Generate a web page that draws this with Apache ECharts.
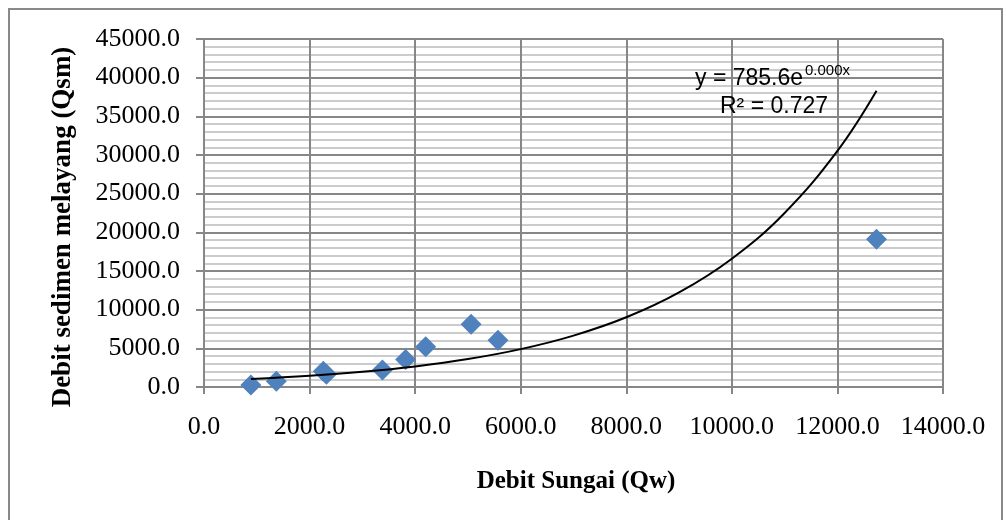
<!DOCTYPE html>
<html>
<head>
<meta charset="utf-8">
<script src="https://cdn.jsdelivr.net/npm/echarts@6/dist/echarts.min.js"></script>
<style>
html,body{margin:0;padding:0;background:#fff;}
#chart{width:1006px;height:520px;}
</style>
</head>
<body>
<div id="chart"></div>
<script>
// Observed data: river discharge (Qw) vs suspended sediment discharge (Qsm)
var qw  = [888, 1370, 2260, 2320, 3380, 3820, 4200, 5060, 5570, 12740];
var qsm = [250, 750, 2030, 1650, 2200, 3550, 5200, 8100, 6050, 19100];

// Trendline values (y = 785.6e^0.000x)
var trendX = [888, 2000, 3000, 4000, 5000, 6000, 7000, 8000, 9000, 10000, 11000, 12000, 12741];
var trendY = [1030, 1446, 1961, 2661, 3610, 4897, 6644, 9013, 12228, 16590, 22508, 30532, 38313];

var xTicks = ['0.0','2000.0','4000.0','6000.0','8000.0','10000.0','12000.0','14000.0'];
var yTicks = ['0.0','5000.0','10000.0','15000.0','20000.0','25000.0','30000.0','35000.0','40000.0','45000.0'];

var xTitle = 'Debit Sungai (Qw)';
var yTitle = 'Debit sedimen melayang (Qsm)';
var eqLine1 = 'y = 785.6e';
var eqSup = '0.000x';
var eqLine2 = 'R² = 0.727';

var pts = qw.map(function (x, i) { return [x, qsm[i]]; });
var trend = trendX.map(function (x, i) { return [x, trendY[i]]; });

var chart = echarts.init(document.getElementById('chart'), null, {renderer: 'canvas'});
var serif = '"Liberation Serif", "Times New Roman", serif';
var sans = '"Liberation Sans", Arial, sans-serif';
var major = '#878787';

chart.setOption({
  animation: false,
  backgroundColor: '#ffffff',
  grid: {left: 204, right: 63, top: 39, bottom: 133, containLabel: false},
  xAxis: {
    type: 'value', min: 0, max: 14000, interval: 2000,
    axisLine: {show: true, onZero: false, lineStyle: {color: major, width: 2}},
    axisTick: {show: true, inside: false, length: 7, lineStyle: {color: major, width: 2}},
    axisLabel: {
      margin: 27, fontFamily: serif, fontSize: 26, color: '#000',
      formatter: function (v) { return xTicks[Math.round(v / 2000)]; }
    },
    splitLine: {show: true, lineStyle: {color: major, width: 2}}
  },
  yAxis: {
    type: 'value', min: 0, max: 45000, interval: 5000,
    axisLine: {show: true, onZero: false, lineStyle: {color: major, width: 2}},
    axisTick: {show: true, inside: false, length: 8, lineStyle: {color: major, width: 2}},
    axisLabel: {
      margin: 24, fontFamily: serif, fontSize: 26, color: '#000',
      formatter: function (v) { return yTicks[Math.round(v / 5000)]; }
    },
    splitLine: {show: true, lineStyle: {color: major, width: 2}},
    minorTick: {show: false, splitNumber: 5},
    minorSplitLine: {show: true, lineStyle: {color: '#bcbcbc', width: 1.5}}
  },
  series: [
    {
      type: 'scatter', data: pts, symbol: 'diamond', symbolSize: 21,
      itemStyle: {color: '#4f81bd', opacity: 1}, z: 2
    },
    {
      type: 'line', data: trend, smooth: 0.4, showSymbol: false, symbol: 'none',
      lineStyle: {color: '#000', width: 2}, z: 3, silent: true
    }
  ],
  graphic: [
    {type: 'rect', silent: true, z: -1,
     shape: {x: 9, y: 9, width: 993, height: 530},
     style: {fill: 'none', stroke: '#898989', lineWidth: 2}},
    {type: 'text', x: 63, y: 227, rotation: Math.PI / 2, silent: true,
     style: {text: yTitle, font: 'bold 27px ' + serif, fill: '#000', textAlign: 'center', textVerticalAlign: 'middle'}},
    {type: 'text', x: 576, y: 482, silent: true,
     style: {text: xTitle, font: 'bold 25px ' + serif, fill: '#000', textAlign: 'center', textVerticalAlign: 'middle'}},
    {type: 'text', x: 695, y: 79, silent: true, z: 10,
     style: {text: eqLine1, font: '23px ' + sans, fill: '#000', textAlign: 'left', textVerticalAlign: 'middle'}},
    {type: 'text', x: 805, y: 71, silent: true, z: 10,
     style: {text: eqSup, font: '15px ' + sans, fill: '#000', textAlign: 'left', textVerticalAlign: 'middle'}},
    {type: 'text', x: 720, y: 107, silent: true, z: 10,
     style: {text: eqLine2, font: '23px ' + sans, fill: '#000', textAlign: 'left', textVerticalAlign: 'middle'}}
  ]
});
</script>
</body>
</html>
